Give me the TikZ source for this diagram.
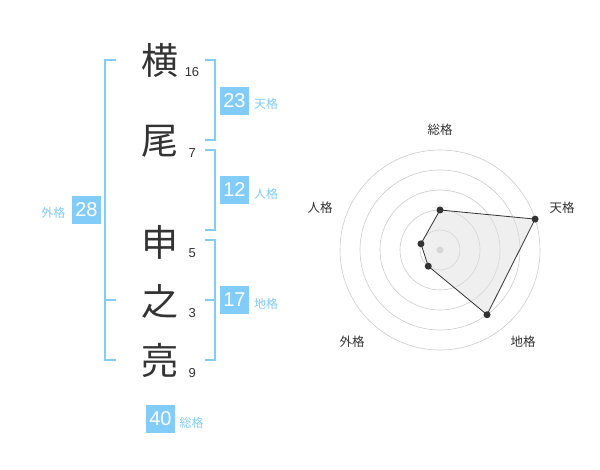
\documentclass[tikz,border=0pt]{standalone}
\usepackage{fontspec}
\setmainfont{Liberation Sans}
\newfontfamily\jp{Noto Sans CJK JP}
\definecolor{blu}{HTML}{82CCFA}
\definecolor{ink}{HTML}{333333}
\begin{document}
\begin{tikzpicture}[x=1pt,y=-1pt,
  kanji/.style={font=\jp\fontsize{37}{37}\selectfont, text=ink, inner sep=0pt},
  strokes/.style={font=\fontsize{13}{13}\selectfont, text=ink, inner sep=0pt},
  numbox/.style={fill=blu, text=white, minimum width=29pt, minimum height=28pt, inner sep=0pt, font=\fontsize{20}{20}\selectfont},
  kaku/.style={text=blu, font=\jp\fontsize{12}{12}\selectfont, inner sep=0pt},
  brk/.style={draw=blu, line width=2pt},
  ring/.style={draw=black!20, line width=0.6pt},
  axlab/.style={text=ink, font=\jp\fontsize{12.5}{12.5}\selectfont, inner sep=0pt},
  dot/.style={circle, fill=ink, minimum size=7pt, inner sep=0pt}]
\useasboundingbox (0,0) rectangle (600,470);
\fill[white] (0,0) rectangle (600,470);

% characters
\node[kanji] (c1) at (160,60) {横};
\node[kanji] (c2) at (160,141) {尾};
\node[kanji] (c3) at (160,242) {申};
\node[kanji] (c4) at (160,301) {之};
\node[kanji] (c5) at (160,360) {亮};
\node[strokes] (n1) at (192,72.5) {16};
\node[strokes] (n2) at (192.3,153.3) {7};
\node[strokes] (n3) at (192.3,253.3) {5};
\node[strokes] (n4) at (192.3,313.3) {3};
\node[strokes] (n5) at (192.3,373.3) {9};

% brackets
\draw[brk] (116,60) -- (105,60) -- (105,360) -- (116,360);
\draw[brk] (105,300) -- (116,300);
\draw[brk] (205,60) -- (215,60) -- (215,140) -- (205,140);
\draw[brk] (205,150) -- (215,150) -- (215,230) -- (205,230);
\draw[brk] (205,240) -- (215,240) -- (215,360) -- (205,360);
\draw[brk] (205,300) -- (215,300);

% boxes
\node[numbox] (ten) at (234.5,101) {23};
\node[kaku] (tenl) at (266,104) {天格};
\node[numbox] (jin) at (234.5,190) {12};
\node[kaku] (jinl) at (266,194) {人格};
\node[numbox] (chi) at (234.5,300) {17};
\node[kaku] (chil) at (266,304) {地格};
\node[numbox] (gai) at (86.5,210) {28};
\node[kaku] (gail) at (53.3,213.3) {外格};
\node[numbox] (sou) at (160.5,419) {40};
\node[kaku] (soul) at (191.7,422.7) {総格};

% radar chart
\begin{scope}[shift={(440,250)}, y=1pt]
  \foreach \r in {20,40,60,80,100} \draw[ring] (0,0) circle (\r);
  \fill[black!20] (0,0) circle (3.5);
  \coordinate (ps) at (90:40);
  \coordinate (pt) at (18:100);
  \coordinate (pc) at (-54:80);
  \coordinate (pg) at (-126:20);
  \coordinate (pj) at (162:20);
  \filldraw[draw=ink, line width=0.8pt, fill=black!12, fill opacity=0.5] (ps) -- (pt) -- (pc) -- (pg) -- (pj) -- cycle;
  \node[dot] (ds) at (ps) {};
  \node[dot] (dt) at (pt) {};
  \node[dot] (dc) at (pc) {};
  \node[dot] (dg) at (pg) {};
  \node[dot] (dj) at (pj) {};
\end{scope}
\node[axlab] (ls) at (440,130) {総格};
\node[axlab] (lt) at (562,208) {天格};
\node[axlab] (lc) at (523,342) {地格};
\node[axlab] (lg) at (352,342) {外格};
\node[axlab] (lj) at (320,208) {人格};
\end{tikzpicture}
\end{document}
